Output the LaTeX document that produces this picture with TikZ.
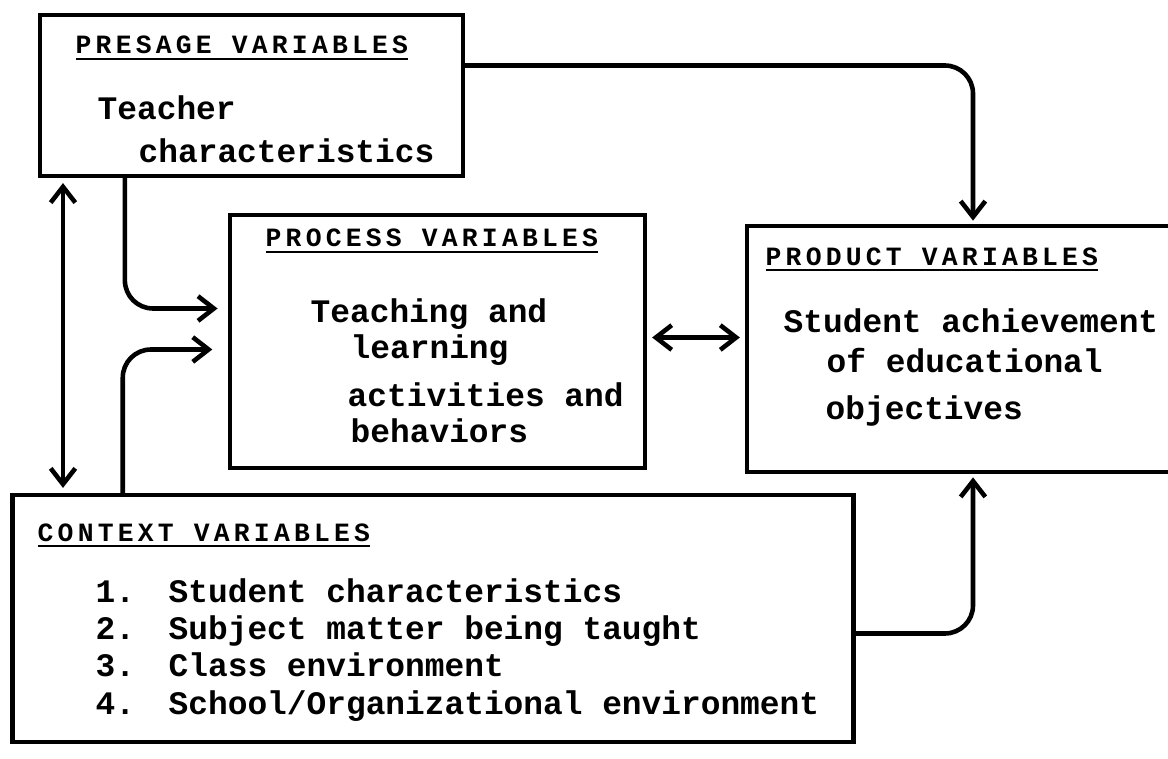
\documentclass[tikz,border=0pt]{standalone}
\usepackage{fontspec}
\setmonofont{Liberation Mono}
\newfontfamily\headfont{Liberation Mono}[LetterSpace=16]
\usetikzlibrary{arrows.meta,calc}
\tikzset{
  box/.style={draw,line width=1.3pt,inner sep=0pt,outer sep=0pt},
  txt/.style={anchor=base west,inner sep=0pt,font=\ttfamily\bfseries\fontsize{9.34}{11}\selectfont},
  head/.style={anchor=base west,inner sep=0pt,font=\headfont\bfseries\fontsize{7.5}{9}\selectfont},
  arr/.style={line width=1.3pt,-{Straight Barb[length=4.5pt,width=7pt]},rounded corners=8pt,shorten >=1.5pt},
  dbl/.style={line width=1.3pt,{Straight Barb[length=4.5pt,width=7pt]}-{Straight Barb[length=4.5pt,width=7pt]},shorten >=2pt,shorten <=2pt}
}
\begin{document}
\begin{tikzpicture}[x=0.01cm,y=-0.01cm]
\useasboundingbox (0,0) rectangle (1168,758);
\node[box,minimum width=4.23cm,minimum height=1.61cm](presage) at (251.5,95.5) {};
\node[box,minimum width=4.15cm,minimum height=2.53cm](process) at (437.5,341.5) {};
\node[box,draw=none,minimum width=4.25cm,minimum height=2.46cm](product) at (959.5,349) {};
\node[box,minimum width=8.40cm,minimum height=2.47cm](context) at (433,618.5) {};
\coordinate (edge) at (1168,0);
\coordinate (lx) at (63,0);
\coordinate (rx) at (973,0);
\draw[line width=1.3pt] (edge |- product.north) -- (product.north west) -- (product.south west) -- (edge |- product.south);
% presage
\node[head](preT) at (75,54) {\underline{PRESAGE VARIABLES}};
\node[txt](pre1) at (97,120) {Teacher};
\node[txt](pre2) at (138,163) {characteristics};
% process
\node[head](proT) at (265,247) {\underline{PROCESS VARIABLES}};
\node[txt](pro1) at (310,322) {Teaching and};
\node[txt](pro2) at (350,358) {learning};
\node[txt](pro3) at (347,406) {activities and};
\node[txt](pro4) at (350,442) {behaviors};
% product
\node[head](prdT) at (765,265) {\underline{PRODUCT VARIABLES}};
\node[txt](prd1) at (783,332) {Student achievement};
\node[txt](prd2) at (826,372) {of educational};
\node[txt](prd3) at (825,419) {objectives};
% context
\node[head](conT) at (37,541) {\underline{CONTEXT VARIABLES}};
\node[txt](num1) at (95,602) {1.};
\node[txt](num2) at (95,639) {2.};
\node[txt](num3) at (95,676) {3.};
\node[txt](num4) at (95,714) {4.};
\node[txt](itm1) at (168,602) {Student characteristics};
\node[txt](itm2) at (168,639) {Subject matter being taught};
\node[txt](itm3) at (168,676) {Class environment};
\node[txt](itm4) at (168,714) {School/Organizational environment};
% connectors
\draw[arr] ($(presage.east)+(0,-30)$) -| (rx |- product.north);
\draw[arr] ($(context.east)+(0,15)$) -| (rx |- product.south);
\draw[arr,shorten >=3.5pt] ($(presage.south west)+(85,0)$) |- ($(process.west)+(0,-33)$);
\draw[arr,shorten >=5pt] ($(context.north west)+(110,0)$) |- ($(process.west)+(0,8)$);
\draw[dbl] (lx |- presage.south) -- (lx |- context.north);
\draw[dbl] ($(process.east)+(0,-4)$) -- ($(process.east -| product.west)+(0,-4)$);
\end{tikzpicture}
\end{document}
